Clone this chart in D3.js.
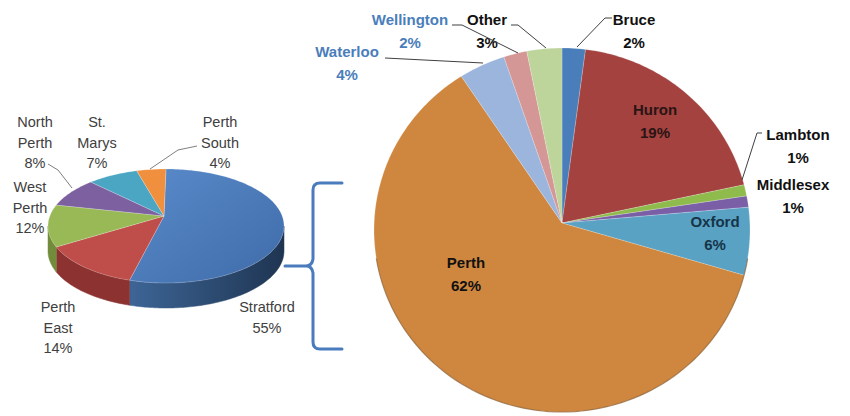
<!DOCTYPE html>
<html><head><meta charset="utf-8">
<script src="https://cdn.jsdelivr.net/npm/d3@7"></script>
<style>html,body{margin:0;padding:0;background:#fff;}svg{display:block;}</style>
</head><body>
<script>
// ---- data ----
const leftCategories = ["Stratford","Perth East","West Perth","North Perth","St. Marys","Perth South"];
const leftValues = [55,14,12,8,7,4];
const rightCategories = ["Bruce","Huron","Lambton","Middlesex","Oxford","Perth","Waterloo","Wellington","Other"];
const rightValues = [2,19,1,1,6,62,4,2,3];

// ---- styles / layout ----
const leftTop = ["url(#gStrat)","#bf4e4b","#98b955","#7c60a0","#4ba6c4","#f08f3e"];
const leftSide = ["url(#gStratSide)","#8c3331","#728c3c","#5a4578","#34788e","#b0652a"];
const rightColors = ["#4a7ebb","#a3423f","#8fbb4c","#7a5ea6","#5aa2c4","#cf873f","#9cb5dd","#d59696","#bdd49b"];
const FONT = "'Liberation Sans', Arial, sans-serif";

const W = 850, H = 416;
const svg = d3.select("body").append("svg").attr("width", W).attr("height", H);
const defs = svg.append("defs");
const g1 = defs.append("linearGradient").attr("id","gStrat").attr("x1","0").attr("y1","0").attr("x2","1").attr("y2","1");
g1.append("stop").attr("offset","0").attr("stop-color","#5a8bcb");
g1.append("stop").attr("offset","1").attr("stop-color","#3f6ba8");
const g2 = defs.append("linearGradient").attr("id","gStratSide").attr("x1","0").attr("y1","0").attr("x2","1").attr("y2","0");
g2.append("stop").attr("offset","0").attr("stop-color","#3d6596");
g2.append("stop").attr("offset","1").attr("stop-color","#1f3552");

const pie = d3.pie().sort(null).value(d => d).startAngle(0).endAngle(2*Math.PI);

function ellPt(e, t, dy=0){ return [e.cx + e.rx*Math.sin(t), e.cy - e.ry*Math.cos(t) + dy]; }
function slicePath(e, a0, a1){
  const p = d3.path();
  p.moveTo(e.ax, e.ay);
  const n = Math.max(2, Math.ceil((a1-a0)/0.02));
  for(let i=0;i<=n;i++){ const [x,y] = ellPt(e, a0+(a1-a0)*i/n); p.lineTo(x,y); }
  p.closePath();
  return p.toString();
}
function sidePath(e, a0, a1, depth){
  const b0 = Math.max(a0, Math.PI/2), b1 = Math.min(a1, 3*Math.PI/2);
  if (b0 >= b1) return null;
  const p = d3.path();
  const n = Math.max(2, Math.ceil((b1-b0)/0.02));
  for(let i=0;i<=n;i++){ const [x,y] = ellPt(e, b0+(b1-b0)*i/n); i===0?p.moveTo(x,y):p.lineTo(x,y); }
  for(let i=n;i>=0;i--){ const [x,y] = ellPt(e, b0+(b1-b0)*i/n, depth); p.lineTo(x,y); }
  p.closePath();
  return p.toString();
}

// ---- left 3D pie ----
const L = {cx:166, cy:226, rx:118, ry:57, ax:164, ay:216};
const depth = 25;
const leftArcs = pie(leftValues);
const gl = svg.append("g");
gl.selectAll("path.side").data(leftArcs).join("path").attr("class","side")
  .attr("d", d => sidePath(L, d.startAngle, d.endAngle, depth))
  .attr("fill", (d,i) => leftSide[i]).attr("stroke", (d,i)=>leftSide[i]).attr("stroke-width",0.5);
gl.selectAll("path.top").data(leftArcs).join("path").attr("class","top")
  .attr("d", d => slicePath(L, d.startAngle, d.endAngle))
  .attr("fill", (d,i) => leftTop[i]).attr("stroke","#ffffff").attr("stroke-width",0.4).attr("stroke-opacity",0.5);

// left labels
const leftLabelPos = {
  "Stratford":  {x:267, y:307, lines:["Stratford"]},
  "Perth East": {x:58,  y:307, lines:["Perth","East"]},
  "West Perth": {x:30,  y:187, lines:["West","Perth"]},
  "North Perth":{x:35,  y:122, lines:["North","Perth"]},
  "St. Marys":  {x:97,  y:122, lines:["St.","Marys"]},
  "Perth South":{x:220, y:122, lines:["Perth","South"]}
};
const lt = svg.append("g").attr("font-family", FONT)
  .attr("font-size","14.5px").attr("fill","#404040").attr("text-anchor","middle");
leftCategories.forEach((c,i) => {
  const pos = leftLabelPos[c];
  const t = lt.append("text").attr("x", pos.x).attr("y", pos.y + 5);
  const lines = pos.lines.concat([leftValues[i] + "%"]);
  lines.forEach((s,k) => t.append("tspan").attr("x", pos.x).attr("dy", k===0?0:20.5).text(s));
});
// left leaders
const leftLeaders = [
  [[48,164],[58,170],[72,188]],
  [[150,169],[178,150],[197,146]]
];
svg.append("g").selectAll("polyline").data(leftLeaders).join("polyline")
  .attr("points", d => d.map(p=>p.join(",")).join(" "))
  .attr("fill","none").attr("stroke","#7f7f7f").attr("stroke-width",1);

// bracket
const br = d3.path();
br.moveTo(285,266); br.lineTo(306,266);
br.quadraticCurveTo(312,266,313,259);
br.lineTo(313,190); br.quadraticCurveTo(313,183,320,183); br.lineTo(342,183);
br.moveTo(306,266); br.quadraticCurveTo(312,266,313,273);
br.lineTo(313,342); br.quadraticCurveTo(313,349,320,349); br.lineTo(342,349);
svg.append("path").attr("d", br.toString()).attr("fill","none")
  .attr("stroke","#4a7bbd").attr("stroke-width",3).attr("stroke-linecap","round");

// ---- right pie ----
const R = {cx:562, cy:230, rx:188, ry:182, ax:562, ay:223};
const rightArcs = pie(rightValues);
svg.append("g").selectAll("path").data(rightArcs).join("path")
  .attr("d", d => slicePath(R, d.startAngle, d.endAngle))
  .attr("fill", (d,i) => rightColors[i]).attr("stroke","#ffffff").attr("stroke-width",0.4).attr("stroke-opacity",0.5);
// subtle rim shadow along the lower edge
svg.append("path")
  .attr("fill","none").attr("stroke","#7a4f22").attr("stroke-width",1.2).attr("stroke-opacity",0.6)
  .attr("d", (() => { const p=d3.path(); const n=80; for(let i=0;i<=n;i++){ const t=Math.PI*0.55+Math.PI*0.9*i/n; const [x,y]=ellPt(R,t); i?p.lineTo(x,y):p.moveTo(x,y);} return p.toString(); })());

const rightLabelPos = {
  "Bruce":     {x:634, y:20,  color:"#111"},
  "Huron":     {x:655, y:110, color:"#2a1414"},
  "Lambton":   {x:798, y:135, color:"#111"},
  "Middlesex": {x:793, y:185, color:"#111"},
  "Oxford":    {x:715, y:222, color:"#153448"},
  "Perth":     {x:466, y:263, color:"#111"},
  "Waterloo":  {x:347, y:52,  color:"#4a7ebb"},
  "Wellington":{x:410, y:20,  color:"#4a7ebb"},
  "Other":     {x:487, y:20,  color:"#111"}
};
const rt = svg.append("g").attr("font-family", FONT)
  .attr("font-size","15px").attr("font-weight","bold").attr("text-anchor","middle");
rightCategories.forEach((c,i) => {
  const pos = rightLabelPos[c];
  const t = rt.append("text").attr("x", pos.x).attr("y", pos.y + 5).attr("fill", pos.color);
  t.append("tspan").attr("x", pos.x).attr("dy", 0).text(c);
  t.append("tspan").attr("x", pos.x).attr("dy", 23).text(rightValues[i] + "%");
});
const rightLeaders = [
  [[612,18],[605,18],[577,47]],
  [[762,133],[757,133],[742,180]],
  [[385,58],[483,63]],
  [[452,25],[462,25],[518,53]],
  [[511,25],[518,25],[546,48]]
];
svg.append("g").selectAll("polyline").data(rightLeaders).join("polyline")
  .attr("points", d => d.map(p=>p.join(",")).join(" "))
  .attr("fill","none").attr("stroke","#404040").attr("stroke-width",1);
</script>
</body></html>
